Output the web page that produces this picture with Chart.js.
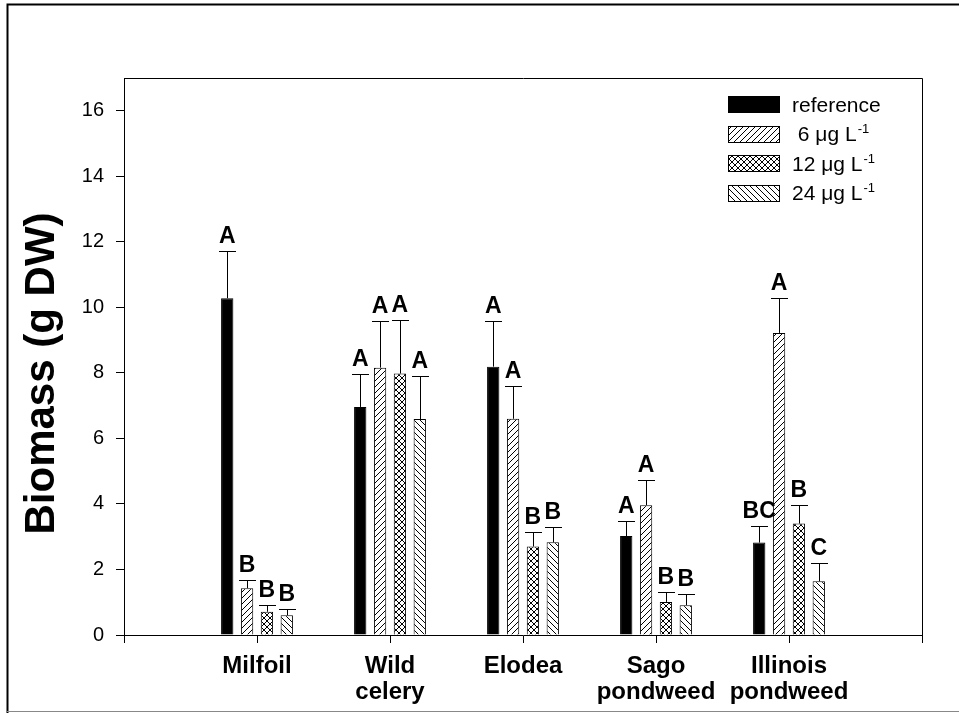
<!DOCTYPE html>
<html>
<head>
<meta charset="utf-8">
<script src="https://cdn.jsdelivr.net/npm/chart.js@4.4.0/dist/chart.umd.min.js"></script>
<style>
  html, body { margin: 0; padding: 0; background: #fff; }
  #wrap { width: 959px; height: 713px; position: relative; }
</style>
</head>
<body>
<div id="wrap"><canvas id="c" width="959" height="713"></canvas></div>
<script>
// ---- Data ----
const categories = [['Milfoil'], ['Wild', 'celery'], ['Elodea'], ['Sago', 'pondweed'], ['Illinois', 'pondweed']];
const seriesLabels = ['reference', ' 6 \u03BCg L\u207B\u00B9', '12 \u03BCg L\u207B\u00B9', '24 \u03BCg L\u207B\u00B9'];
const referenceValues = [10.28, 6.96, 8.19, 3.02, 2.82];
const referenceErrors = [1.45, 1.02, 1.40, 0.47, 0.52];
const six = [1.43, 8.16, 6.60, 3.96, 9.22];
const sixErrors = [0.26, 1.41, 1.01, 0.77, 1.06];
const twelve = [0.71, 7.98, 2.70, 1.01, 3.40];
const twelveErrors = [0.21, 1.64, 0.44, 0.31, 0.57];
const twentyFour = [0.60, 6.59, 2.83, 0.91, 1.64];
const twentyFourErrors = [0.19, 1.32, 0.48, 0.35, 0.55];
const referenceLetters = ['A', 'A', 'A', 'A', 'BC'];
const sixLetters = ['B', 'A', 'A', 'A', 'A'];
const twelveLetters = ['B', 'A', 'B', 'B', 'B'];
const twentyFourLetters = ['B', 'A', 'B', 'B', 'C'];
const yTicks = [0, 2, 4, 6, 8, 10, 12, 14, 16];
const yTitle = 'Biomass (g DW)';

const FONT = '"Liberation Sans", Arial, Helvetica, sans-serif';

function makePattern(type) {
  const s = 6;
  const c = document.createElement('canvas');
  c.width = s; c.height = s;
  const g = c.getContext('2d');
  g.fillStyle = '#fff';
  g.fillRect(0, 0, s, s);
  g.strokeStyle = '#000';
  g.lineWidth = 1;
  g.beginPath();
  if (type === 'fwd' || type === 'cross') {
    g.moveTo(-1, s + 1); g.lineTo(s + 1, -1);
    g.moveTo(-1, 1); g.lineTo(1, -1);
    g.moveTo(s - 1, s + 1); g.lineTo(s + 1, s - 1);
  }
  if (type === 'back' || type === 'cross') {
    g.moveTo(-1, -1); g.lineTo(s + 1, s + 1);
    g.moveTo(s - 1, -1); g.lineTo(s + 1, 1);
    g.moveTo(-1, s - 1); g.lineTo(1, s + 1);
  }
  g.stroke();
  return g.createPattern(c, 'repeat');
}

const fills = ['#000', makePattern('fwd'), makePattern('cross'), makePattern('back')];
const values = [referenceValues, six, twelve, twentyFour];
const errors = [referenceErrors, sixErrors, twelveErrors, twentyFourErrors];
const letters = [referenceLetters, sixLetters, twelveLetters, twentyFourLetters];

const datasets = values.map((arr, k) => ({
  label: seriesLabels[k],
  data: arr.map((v, i) => ({ x: i + 1, y: v })),
  backgroundColor: fills[k],
  borderColor: '#000',
  borderWidth: 1,
  borderSkipped: 'start',
  categoryPercentage: 0.597,
  barPercentage: 0.62
}));

const decorations = {
  id: 'decorations',
  beforeDraw(chart) {
    const ctx = chart.ctx;
    ctx.save();
    ctx.fillStyle = '#fff';
    ctx.fillRect(0, 0, chart.width, chart.height);
    ctx.restore();
  },
  afterDatasetsDraw(chart) {
    const ctx = chart.ctx;
    const ys = chart.scales.y;
    ctx.save();
    ctx.strokeStyle = '#000';
    ctx.lineWidth = 1;
    ctx.fillStyle = '#000';
    ctx.font = 'bold 23px ' + FONT;
    ctx.textAlign = 'center';
    ctx.textBaseline = 'alphabetic';
    chart.data.datasets.forEach((ds, k) => {
      const meta = chart.getDatasetMeta(k);
      meta.data.forEach((bar, i) => {
        const v = values[k][i], e = errors[k][i];
        const x = Math.round(bar.x) + 0.5;
        const yTop = ys.getPixelForValue(v);
        const yCap = Math.round(ys.getPixelForValue(v + e)) + 0.5;
        ctx.beginPath();
        ctx.moveTo(x, yTop);
        ctx.lineTo(x, yCap);
        ctx.moveTo(x - 8.5, yCap);
        ctx.lineTo(x + 8.5, yCap);
        ctx.stroke();
        ctx.fillText(letters[k][i], bar.x, yCap - 9);
      });
    });
    ctx.restore();
  },
  afterDraw(chart) {
    const ctx = chart.ctx;
    const a = chart.chartArea;
    ctx.save();
    // plot frame (top and right)
    ctx.strokeStyle = '#000';
    ctx.lineWidth = 1;
    ctx.beginPath();
    ctx.moveTo(Math.round(a.left) + 0.5, Math.round(a.top) + 0.5);
    ctx.lineTo(Math.round(a.right) + 0.5, Math.round(a.top) + 0.5);
    ctx.lineTo(Math.round(a.right) + 0.5, Math.round(a.bottom) + 0.5);
    ctx.stroke();

    // outer figure border
    ctx.lineWidth = 2;
    ctx.beginPath();
    ctx.moveTo(959, 4.5);
    ctx.lineTo(7.5, 4.5);
    ctx.lineTo(7.5, 713);
    ctx.stroke();
    ctx.strokeStyle = '#888';
    ctx.lineWidth = 1;
    ctx.beginPath();
    ctx.moveTo(7, 711.5);
    ctx.lineTo(959, 711.5);
    ctx.stroke();

    // y axis title
    ctx.fillStyle = '#000';
    ctx.font = 'bold 42px ' + FONT;
    ctx.translate(53.5, 373.5);
    ctx.rotate(-Math.PI / 2);
    ctx.textAlign = 'center';
    ctx.textBaseline = 'alphabetic';
    ctx.fillText(yTitle, 0, 0);
    ctx.setTransform(1, 0, 0, 1, 0, 0);

    // legend
    const sx = 728, sw = 51, sh = 16;
    chart.data.datasets.forEach((ds, k) => {
      const cy = 104 + k * 29.5;
      const top = Math.round(cy - sh / 2) + 0.5;
      ctx.fillStyle = ds.backgroundColor;
      ctx.fillRect(sx + 0.5, top, sw, sh);
      ctx.strokeStyle = '#000';
      ctx.lineWidth = 1;
      ctx.strokeRect(sx + 0.5, top, sw, sh);
      let label = ds.label;
      let sup = '';
      if (label.endsWith('\u207B\u00B9')) { sup = '-1'; label = label.slice(0, -2); }
      ctx.fillStyle = '#000';
      ctx.font = '21px ' + FONT;
      ctx.textAlign = 'left';
      ctx.textBaseline = 'alphabetic';
      const base = cy + 7.5;
      ctx.fillText(label, 792, base);
      if (sup) {
        const w = ctx.measureText(label).width;
        ctx.font = '13px ' + FONT;
        ctx.fillText(sup, 792 + w + 1, base - 8);
      }
    });
    ctx.restore();
  }
};

new Chart(document.getElementById('c'), {
  type: 'bar',
  data: { datasets },
  options: {
    responsive: false,
    animation: false,
    devicePixelRatio: 1,
    layout: { padding: { left: 0, top: 78, right: 37, bottom: 0 } },
    plugins: { legend: { display: false }, tooltip: { enabled: false } },
    scales: {
      x: {
        type: 'linear',
        min: 0,
        max: 6,
        offset: false,
        afterFit(s) { s.height = 78; },
        grid: { display: true, offset: false, drawOnChartArea: false, drawTicks: true, tickLength: 8, color: '#000', lineWidth: 1 },
        border: { display: true, color: '#000', width: 1 },
        ticks: {
          stepSize: 1,
          autoSkip: false,
          maxRotation: 0,
          padding: 11,
          color: '#000',
          font: { family: FONT, size: 24, weight: 'bold', lineHeight: 1.07 },
          callback(value) {
            if (Number.isInteger(value) && value >= 1 && value <= categories.length) return categories[value - 1];
            return '';
          }
        }
      },
      y: {
        type: 'linear',
        min: 0,
        max: 17,
        afterFit(s) { s.width = 124; },
        afterBuildTicks(s) { s.ticks = yTicks.map(v => ({ value: v })); },
        grid: { display: true, drawOnChartArea: false, drawTicks: true, tickLength: 8, color: '#000', lineWidth: 1 },
        border: { display: true, color: '#000', width: 1 },
        ticks: {
          padding: 12,
          color: '#000',
          font: { family: FONT, size: 20 },
          callback(value) { return String(value); }
        }
      }
    }
  },
  plugins: [decorations]
});
</script>
</body>
</html>
